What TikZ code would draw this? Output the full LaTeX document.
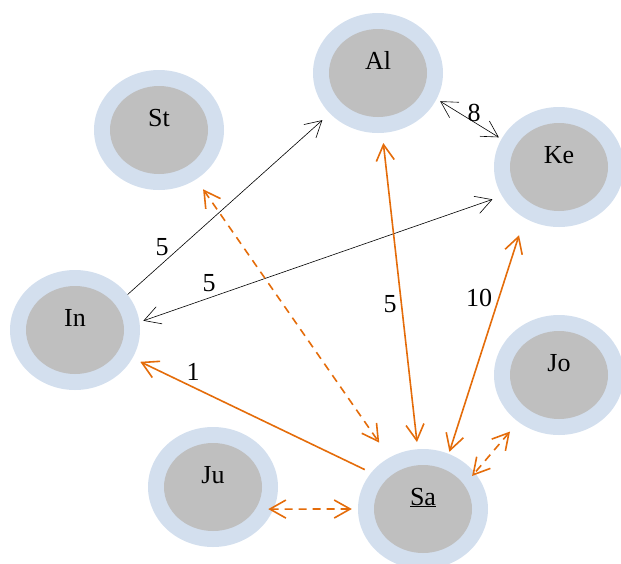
\documentclass[tikz,border=0pt]{standalone}
\usepackage{fontspec}
\setmainfont{Liberation Serif}
\usetikzlibrary{shapes.geometric,arrows.meta}
\definecolor{ring}{HTML}{D3DFEE}
\definecolor{core}{HTML}{BFBFBF}
\definecolor{orng}{HTML}{E46C0A}
\begin{document}
\begin{tikzpicture}[x=1pt,y=-1pt,
  outer/.style={ellipse,fill=ring,minimum width=130pt,minimum height=120pt,inner sep=0pt},
  innr/.style={ellipse,fill=core,minimum width=98pt,minimum height=88pt,inner sep=0pt},
  ntext/.style={anchor=base,font=\fontsize{26}{31}\selectfont,inner sep=0pt},
  lbl/.style={font=\fontsize{26}{31}\selectfont,inner sep=0pt},
  blk/.style={black,line width=0.6pt},
  org/.style={orng,line width=1.6pt},
  dsh/.style={orng,line width=1.6pt,dash pattern=on 8pt off 6pt},
  vb/.tip={Straight Barb[length=16pt,width=18pt]}]
\useasboundingbox (0,0) rectangle (621,563);
% nodes
\node[outer] (Al) at (378,73) {};  \node[innr] (Alc) at (Al) {};  \node[ntext] (Alt) at (378,69) {Al};
\node[outer] (Ke) at (559,167) {}; \node[innr] (Kec) at (Ke) {};  \node[ntext] (Ket) at (559,163) {Ke};
\node[outer] (St) at (159,130) {}; \node[innr] (Stc) at (St) {};  \node[ntext] (Stt) at (159,126) {St};
\node[outer] (In) at (75,330) {};  \node[innr] (Inc) at (In) {};  \node[ntext] (Int) at (75,326) {In};
\node[outer] (Ju) at (213,487) {}; \node[innr] (Juc) at (Ju) {};  \node[ntext] (Jut) at (213,483) {Ju};
\node[outer] (Jo) at (559,375) {}; \node[innr] (Joc) at (Jo) {};  \node[ntext] (Jot) at (559,371) {Jo};
\node[outer] (Sa) at (423,509) {}; \node[innr] (Sac) at (Sa) {};  \node[ntext] (Sat) at (423,505) {\underline{Sa}};
% connectors
\draw[blk,-vb,shorten >=10pt] (In.34) -- (Al.220);
\draw[blk,vb-vb,shorten <=4pt,shorten >=10pt] (In.7.5) -- (Ke.207.6);
\draw[blk,vb-vb,shorten <=4pt,shorten >=3pt] (Al.-24.3) -- (Ke.154.2);
\draw[org,-vb,shorten <=7pt,shorten >=8.5pt] (Sa.145.9) -- (In.-26.2);
\draw[org,vb-vb,shorten <=10pt,shorten >=7pt] (Al.-86.7) -- (Sa.95.1);
\draw[org,vb-vb,shorten <=18pt,shorten >=2pt] (Ke.236.3) -- (Sa.65.5);
\draw[dsh,vb-vb,shorten <=12pt,shorten >=18pt] (St.-53.3) -- (Sa.123.7);
\draw[dsh,vb-vb,shorten <=-5.4pt,shorten >=6pt] (Ju.-20.9) -- (Sa.180.8);
\draw[dsh,vb-vb,shorten <=12.6pt,shorten >=-4.4pt] (Jo.229.9) -- (Sa.35.3);
% labels
\node[lbl] (w1) at (162,247) {5};
\node[lbl] (w2) at (209,283) {5};
\node[lbl] (w3) at (474,113) {8};
\node[lbl] (w4) at (193,372) {1};
\node[lbl] (w5) at (390,304) {5};
\node[lbl] (w6) at (479,298) {10};
\end{tikzpicture}
\end{document}
